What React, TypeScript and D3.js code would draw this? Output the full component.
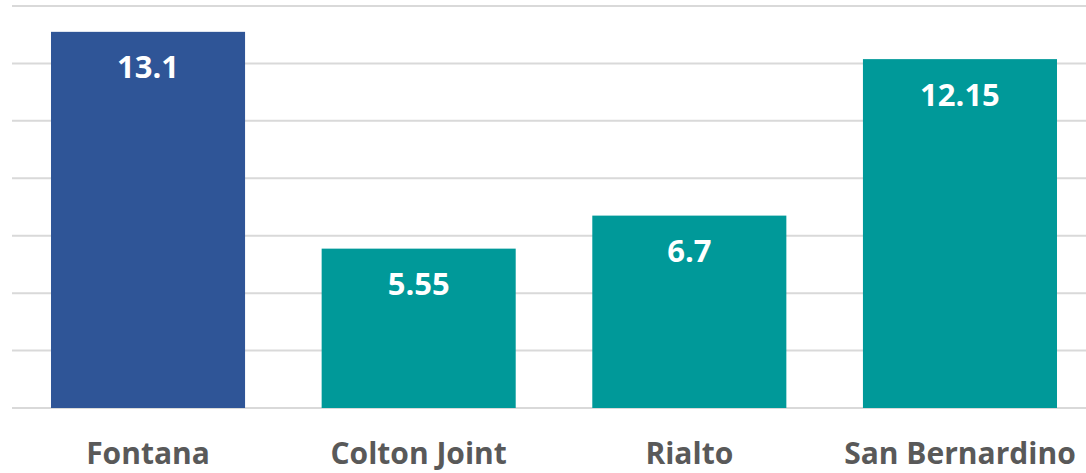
import React from "react";
import * as d3 from "d3";

const categories = ["Fontana", "Colton Joint", "Rialto", "San Bernardino"];
const values = [13.1, 5.55, 6.7, 12.15];
const valueLabels = ["13.1", "5.55", "6.7", "12.15"];
const barColors = ["#2F5597", "#009999", "#009999", "#009999"];
const gridTicks = [0, 2, 4, 6, 8, 10, 12, 14];

export default function App() {
  const W = 1086;
  const H = 473;
  const x = d3
    .scaleBand<string>()
    .domain(categories)
    .range([12.7, 1095.3])
    .paddingInner(0.283)
    .paddingOuter(0.1415);
  const y = d3.scaleLinear().domain([0, 14]).range([408, 6]);
  const font = "'Open Sans', 'Liberation Sans', sans-serif";
  return (
    <svg
      width={W}
      height={H}
      style={{ position: "absolute", left: 0, top: 0, background: "#fff" }}
    >
      {gridTicks.map((t) => (
        <line
          key={t}
          x1={12}
          x2={W}
          y1={y(t)}
          y2={y(t)}
          stroke="#D9D9D9"
          strokeWidth={2}
        />
      ))}
      {categories.map((c, i) => {
        const bx = x(c)!;
        const bw = x.bandwidth();
        return (
          <g key={c}>
            <rect
              x={bx}
              y={y(values[i])}
              width={bw}
              height={y(0) - y(values[i])}
              fill={barColors[i]}
            />
            <text
              x={bx + bw / 2}
              y={y(values[i]) + 46.5}
              textAnchor="middle"
              fill="#fff"
              fontFamily={font}
              fontWeight="bold"
              fontSize={31}
            >
              {valueLabels[i]}
            </text>
            <text
              x={bx + bw / 2}
              y={464}
              textAnchor="middle"
              fill="#595959"
              fontFamily={font}
              fontWeight="bold"
              fontSize={30}
            >
              {c}
            </text>
          </g>
        );
      })}
    </svg>
  );
}
